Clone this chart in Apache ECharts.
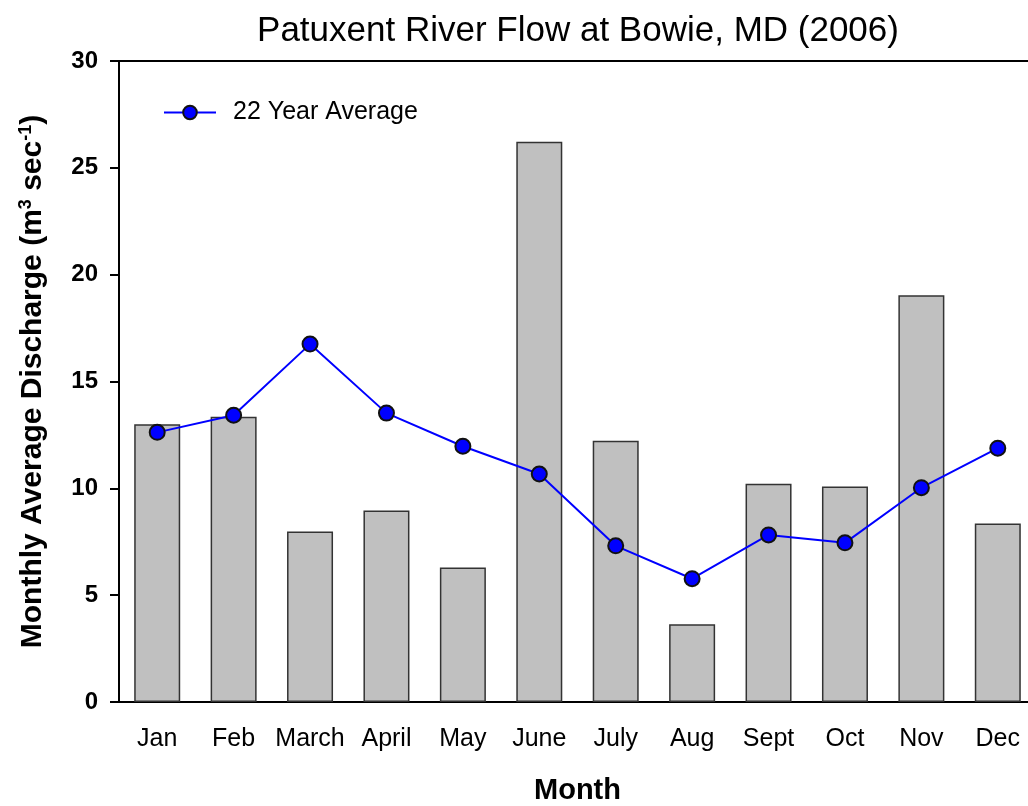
<!DOCTYPE html>
<html>
<head>
<meta charset="utf-8">
<script src="https://cdn.jsdelivr.net/npm/echarts@6/dist/echarts.min.js"></script>
<style>
html,body{margin:0;padding:0;background:#fff;}
#chart{width:1028px;height:806px;}
</style>
</head>
<body>
<div id="chart"></div>
<script>
// monthly data
var months = ['Jan','Feb','March','April','May','June','July','Aug','Sept','Oct','Nov','Dec'];
var flow2006 = [13.0, 13.35, 7.98, 8.96, 6.3, 26.22, 12.23, 3.64, 10.22, 10.08, 19.04, 8.35];
var avg22 = [12.62, 13.42, 16.75, 13.52, 11.97, 10.67, 7.31, 5.77, 7.82, 7.45, 10.03, 11.88];
var yTicks = [0, 5, 10, 15, 20, 25, 30];

var chart = echarts.init(document.getElementById('chart'));
var font = '"Liberation Sans", Arial, sans-serif';
var option = {
    animation: false,
    textStyle: {fontFamily: font, color: '#000'},
    title: {
        text: 'Patuxent River Flow at Bowie, MD (2006)',
        left: 573, top: 9, textAlign: 'center',
        textStyle: {fontFamily: font, fontSize: 35, fontWeight: 'normal', color: '#000'}
    },
    legend: {
        data: ['22 Year Average'],
        left: 158, top: 95,
        itemWidth: 52, itemHeight: 17, itemGap: 10,
        textStyle: {fontFamily: font, fontSize: 25, color: '#000', padding: [0, 0, 0, 12]}
    },
    grid: {
        left: 119, top: 61, width: 917, height: 641,
        outerBoundsMode: 'none',
        show: true, borderColor: '#000', borderWidth: 2, backgroundColor: 'transparent'
    },
    xAxis: {
        type: 'category',
        data: months,
        name: 'Month',
        nameLocation: 'middle',
        nameGap: 74,
        nameTextStyle: {fontFamily: font, fontSize: 29, fontWeight: 'bold', color: '#000'},
        axisLine: {lineStyle: {color: '#000', width: 2}},
        axisTick: {alignWithLabel: true, interval: 0, length: 9, lineStyle: {color: '#000', width: 2}},
        axisLabel: {interval: 0, hideOverlap: false, fontFamily: font, fontSize: 25, color: '#000', margin: 25},
        splitLine: {show: false}
    },
    yAxis: {
        type: 'value',
        min: yTicks[0], max: yTicks[yTicks.length - 1], interval: 5,
        name: '{n|Monthly Average Discharge (m}{sup|3}{n| sec}{sup|-1}{n|)}',
        nameLocation: 'middle',
        nameGap: 70,
        nameTextStyle: {
            rich: {
                n: {fontFamily: font, fontSize: 30, fontWeight: 'bold', color: '#000'},
                sup: {fontFamily: font, fontSize: 18, fontWeight: 'bold', color: '#000', verticalAlign: 'top', padding: [0, 0, 14, 0]}
            }
        },
        axisLine: {show: true, lineStyle: {color: '#000', width: 2}},
        axisTick: {show: true, length: 9, lineStyle: {color: '#000', width: 2}},
        axisLabel: {fontFamily: font, fontSize: 24, fontWeight: 'bold', color: '#000', margin: 21},
        splitLine: {show: false}
    },
    series: [
        {
            name: '2006',
            type: 'bar',
            data: flow2006,
            barWidth: 46,
            itemStyle: {color: '#c0c0c0', borderColor: '#333', borderWidth: 1.5}
        },
        {
            name: '22 Year Average',
            type: 'line',
            data: avg22,
            symbol: 'circle',
            symbolSize: 15,
            lineStyle: {color: '#0000ff', width: 2},
            itemStyle: {color: '#0000ff', borderColor: '#111', borderWidth: 2},
            z: 5
        }
    ]
};
chart.setOption(option);
</script>
</body>
</html>
